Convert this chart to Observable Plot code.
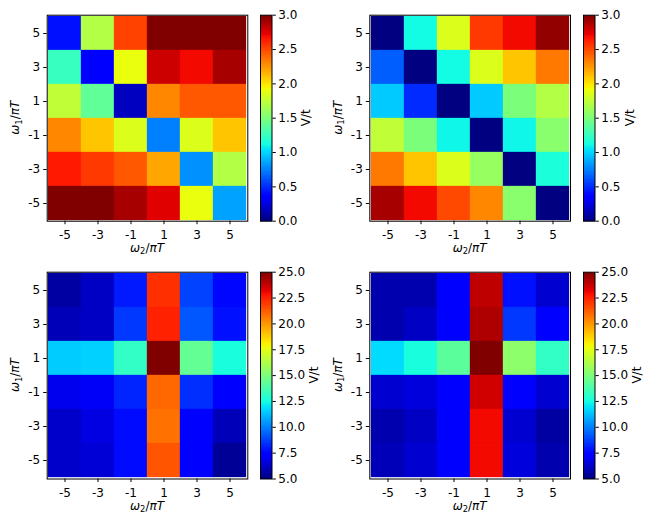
<!DOCTYPE html>
<html>
<head>
<meta charset="utf-8">
<script src="https://cdn.jsdelivr.net/npm/d3@7"></script>
<script src="https://cdn.jsdelivr.net/npm/@observablehq/plot@0.6"></script>
<style>
  html, body { margin: 0; padding: 0; background: #fff; }
  #chart { position: relative; width: 656px; height: 525px; background: #fff; }
  #chart svg { position: absolute; overflow: visible; }
</style>
</head>
<body>
<div id="chart"></div>
<script>
// ---- data ----
const w2Labels = ["-5", "-3", "-1", "1", "3", "5"];          // columns (x)
const w1Labels = ["5", "3", "1", "-1", "-3", "-5"];          // rows, top to bottom (y)

const vTopLeft = [
  [0.42, 1.7, 2.52, 3.0, 3.0, 3.0],
  [1.25, 0.35, 1.9, 2.8, 2.7, 2.9],
  [1.75, 1.4, 0.17, 2.3, 2.45, 2.45],
  [2.3, 2.1, 1.85, 0.75, 1.85, 2.1],
  [2.65, 2.55, 2.45, 2.2, 0.8, 1.7],
  [3.0, 3.0, 2.9, 2.75, 1.9, 0.85]
];
const vTopRight = [
  [0.0, 1.12, 1.85, 2.55, 2.7, 2.95],
  [0.65, 0.0, 1.12, 1.85, 2.1, 2.35],
  [0.97, 0.5, 0.0, 0.97, 1.5, 1.7],
  [1.75, 1.5, 1.1, 0.0, 1.1, 1.55],
  [2.35, 2.1, 1.85, 1.6, 0.0, 1.15],
  [2.9, 2.7, 2.5, 2.3, 1.55, 0.0]
];
const vBottomLeft = [
  [5.6, 6.2, 8.0, 22.2, 8.8, 7.6],
  [6.0, 6.2, 8.6, 22.5, 9.2, 7.8],
  [11.5, 11.6, 13.2, 25.0, 14.4, 12.6],
  [6.9, 7.1, 8.2, 21.0, 8.4, 7.2],
  [6.3, 6.7, 7.7, 20.8, 7.3, 6.0],
  [6.3, 6.5, 7.7, 21.4, 7.3, 5.4]
];
const vBottomRight = [
  [5.8, 5.8, 7.4, 23.9, 7.8, 6.4],
  [5.8, 6.2, 7.4, 24.2, 8.6, 7.2],
  [11.8, 12.6, 14.2, 25.0, 15.4, 13.2],
  [6.4, 6.6, 7.4, 23.6, 7.4, 6.4],
  [5.8, 6.2, 7.4, 23.0, 6.4, 5.6],
  [6.0, 6.4, 7.4, 23.0, 6.6, 5.8]
];
const topDomain = [0, 3];
const bottomDomain = [5, 25];
const topTicks = [0, 0.5, 1.0, 1.5, 2.0, 2.5, 3.0];
const bottomTicks = [5, 7.5, 10, 12.5, 15, 17.5, 20, 22.5, 25];
const cbarLabel = "V/t";

// ---- jet colormap (matplotlib segment data) ----
const jetR = [[0, 0], [0.35, 0], [0.66, 1], [0.89, 1], [1, 0.5]];
const jetG = [[0, 0], [0.125, 0], [0.375, 1], [0.64, 1], [0.91, 0], [1, 0]];
const jetB = [[0, 0.5], [0.11, 1], [0.34, 1], [0.65, 0], [1, 0]];
function seg(p, t) {
  if (t <= p[0][0]) return p[0][1];
  for (let i = 1; i < p.length; i++) {
    if (t <= p[i][0]) {
      const [x0, y0] = p[i - 1], [x1, y1] = p[i];
      return y0 + (y1 - y0) * (t - x0) / (x1 - x0);
    }
  }
  return p[p.length - 1][1];
}
function jet(t) {
  t = Math.max(0, Math.min(1, t));
  const c = v => Math.round(255 * v);
  return `rgb(${c(seg(jetR, t))},${c(seg(jetG, t))},${c(seg(jetB, t))})`;
}

const FONT = "DejaVu Sans";
const FS = 12;
const chart = document.getElementById("chart");

function addMathLabel(svg, x, y, sub, rotate) {
  const t = d3.select(svg).append("text")
    .attr("font-family", FONT).attr("font-size", FS).attr("fill", "black")
    .attr("text-anchor", "middle")
    .attr("transform", rotate ? `translate(${x},${y}) rotate(-90)` : `translate(${x},${y})`);
  t.append("tspan").attr("font-style", "italic").text("ω");
  t.append("tspan").attr("font-size", FS * 0.7).attr("dy", 2.5).text(sub);
  t.append("tspan").attr("dy", -2.5).text("/");
  t.append("tspan").attr("font-style", "italic").text("πT");
}

function heatmap(vals, domain, pos) {
  const data = [];
  vals.forEach((row, i) => row.forEach((v, j) => data.push({w1: w1Labels[i], w2: w2Labels[j], v})));
  const svg = Plot.plot({
    width: pos.w, height: pos.h,
    marginLeft: pos.ml, marginRight: pos.mr, marginTop: pos.mt, marginBottom: pos.mb,
    style: {fontFamily: FONT, fontSize: FS + "px", color: "black", background: "transparent"},
    x: {type: "band", domain: w2Labels, padding: 0, axis: null},
    y: {type: "band", domain: w1Labels, padding: 0, axis: null},
    color: {type: "linear", domain, interpolate: t => jet(t)},
    marks: [
      Plot.cell(data, {x: "w2", y: "w1", fill: "v", inset: 0, stroke: "v", strokeWidth: 0.3}),
      Plot.frame({stroke: "black", strokeWidth: 1}),
      Plot.axisX({anchor: "bottom", tickSize: 3.5, tickPadding: 5.5, label: null, fontSize: FS}),
      Plot.axisY({anchor: "left", tickSize: 3.5, tickPadding: 3.5, label: null, fontSize: FS})
    ]
  });
  svg.style.left = pos.left + "px";
  svg.style.top = pos.top + "px";
  const plotW = pos.w - pos.ml - pos.mr;
  const plotH = pos.h - pos.mt - pos.mb;
  addMathLabel(svg, pos.ml + plotW / 2, pos.h - pos.mb + 31, "2", false);
  addMathLabel(svg, pos.ml - 27.5, pos.mt + plotH / 2, "1", true);
  chart.appendChild(svg);
}

function colorbar(domain, ticks, pos) {
  const svg = Plot.plot({
    width: pos.w, height: pos.h,
    marginLeft: 0, marginRight: pos.w - 11.5, marginTop: pos.mt, marginBottom: pos.mb,
    style: {fontFamily: FONT, fontSize: FS + "px", color: "black", background: "transparent"},
    x: {domain: [0, 1], axis: null},
    y: {domain, axis: null},
    color: {type: "linear", domain, interpolate: t => jet(t)},
    marks: [
      Plot.raster({x1: 0, x2: 1, y1: domain[0], y2: domain[1], width: 1, height: 256,
                   fill: (x, y) => y, imageRendering: "pixelated"}),
      Plot.frame({stroke: "black", strokeWidth: 1}),
      Plot.axisY({anchor: "right", ticks, tickFormat: d3.format(".1f"), tickSize: 3.3, tickPadding: 3, label: null, fontSize: FS})
    ]
  });
  svg.style.left = pos.left + "px";
  svg.style.top = pos.top + "px";
  const plotH = pos.h - pos.mt - pos.mb;
  d3.select(svg).append("text")
    .attr("font-family", FONT).attr("font-size", FS).attr("fill", "black")
    .attr("text-anchor", "middle")
    .attr("transform", `translate(${pos.lx},${pos.mt + plotH / 2}) rotate(-90)`)
    .text(cbarLabel);
  chart.appendChild(svg);
}

heatmap(vTopLeft, topDomain, {left: 0, top: 0, w: 256, h: 262, ml: 46.7, mr: 8.7, mt: 14.7, mb: 41.3});
heatmap(vTopRight, topDomain, {left: 328, top: 0, w: 250, h: 262, ml: 41.3, mr: 8, mt: 14.7, mb: 41.3});
heatmap(vBottomLeft, bottomDomain, {left: 0, top: 262, w: 256, h: 263, ml: 46.7, mr: 8.7, mt: 9.7, mb: 46.5});
heatmap(vBottomRight, bottomDomain, {left: 328, top: 262, w: 250, h: 263, ml: 41.3, mr: 8, mt: 9.7, mb: 46.5});

colorbar(topDomain, topTicks, {left: 260, top: 0, w: 72, h: 262, mt: 14.7, mb: 41.3, lx: 50});
colorbar(topDomain, topTicks, {left: 583, top: 0, w: 72, h: 262, mt: 14.7, mb: 41.3, lx: 51});
colorbar(bottomDomain, bottomTicks, {left: 260, top: 262, w: 72, h: 263, mt: 9.7, mb: 46.5, lx: 58});
colorbar(bottomDomain, bottomTicks, {left: 583, top: 262, w: 72, h: 263, mt: 9.7, mb: 46.5, lx: 58});
</script>
</body>
</html>
